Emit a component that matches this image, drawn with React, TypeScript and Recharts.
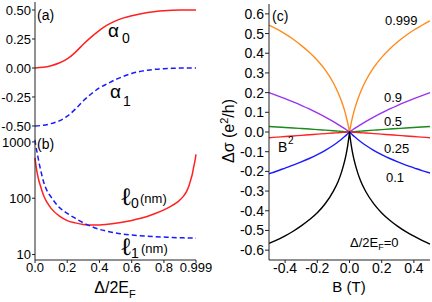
import React from 'react';
import { LineChart, Line, XAxis, YAxis } from 'recharts';

const FONT = '"Liberation Sans", Arial, sans-serif';
const AX = '#222';

// Panel (a): alpha_0, alpha_1 vs Δ/2E_F
const gapX = [0, 0.05, 0.1, 0.15, 0.2, 0.25, 0.3, 0.35, 0.4, 0.45, 0.5, 0.55, 0.6, 0.65, 0.7, 0.75, 0.8, 0.85, 0.9, 0.95, 0.999];
const alpha0 = [0, 0.006, 0.02, 0.043, 0.078, 0.135, 0.205, 0.268, 0.325, 0.371, 0.406, 0.432, 0.451, 0.466, 0.478, 0.487, 0.493, 0.497, 0.499, 0.5, 0.5];
const alpha1 = [-0.5, -0.494, -0.48, -0.456, -0.416, -0.355, -0.283, -0.222, -0.172, -0.135, -0.1, -0.072, -0.047, -0.031, -0.019, -0.011, -0.006, -0.003, -0.001, 0, 0];

// Panel (b): l_0, l_1 (nm) vs Δ/2E_F
const lenX = [0, 0.005, 0.014, 0.025, 0.035, 0.056, 0.075, 0.1, 0.15, 0.2, 0.25, 0.3, 0.35, 0.4, 0.45, 0.5, 0.55, 0.6, 0.65, 0.7, 0.75, 0.8, 0.85, 0.89, 0.92, 0.94, 0.955, 0.966, 0.975, 0.985, 0.992, 0.999];
const ell0 = [520, 400, 277, 200, 161, 107, 84, 66, 48.5, 40, 36.5, 34.2, 33.5, 33.6, 34.5, 35.8, 37.8, 40.3, 43.5, 48, 54, 62, 74, 88, 108, 131, 165, 211, 260, 363, 450, 600];
const ell1 = [1085, 850, 629, 430, 318, 184, 135, 105, 69, 54, 44, 36.5, 31.5, 28, 25.8, 24.2, 23, 22.2, 21.6, 21.1, 20.7, 20.4, 20.1, 19.9, 19.8, 19.7, 19.65, 19.6, 19.6, 19.55, 19.5, 19.5];

// Panel (c): Δσ vs B for several Δ/2E_F
const fieldB = [-0.5, -0.45, -0.4, -0.35, -0.3, -0.25, -0.2, -0.15, -0.1, -0.07, -0.05, -0.03, -0.02, -0.01, -0.005, -0.002, 0, 0.002, 0.005, 0.01, 0.02, 0.03, 0.05, 0.07, 0.1, 0.15, 0.2, 0.25, 0.3, 0.35, 0.4, 0.45, 0.5];
const sigma0999 = [0.543, 0.522, 0.498, 0.471, 0.44, 0.405, 0.364, 0.314, 0.249, 0.198, 0.157, 0.107, 0.076, 0.041, 0.022, 0.009, 0, 0.009, 0.022, 0.043, 0.079, 0.111, 0.163, 0.206, 0.259, 0.327, 0.379, 0.422, 0.458, 0.49, 0.518, 0.542, 0.565];
const sigma09 = [0.2, 0.185, 0.1696, 0.153, 0.1356, 0.117, 0.097, 0.0757, 0.0526, 0.0378, 0.0275, 0.0168, 0.0113, 0.0057, 0.0029, 0.0012, 0, 0.0012, 0.0029, 0.0057, 0.0113, 0.0168, 0.0275, 0.0378, 0.0526, 0.0757, 0.097, 0.117, 0.1356, 0.153, 0.1696, 0.185, 0.2];
const sigma05 = [0.028, 0.0255, 0.023, 0.0204, 0.0178, 0.015, 0.0122, 0.0093, 0.0063, 0.0043, 0.003, 0.0018, 0.0012, 0.0006, 0.0003, 0.0001, 0, 0.0001, 0.0003, 0.0006, 0.0012, 0.0018, 0.003, 0.0043, 0.0063, 0.0093, 0.0122, 0.015, 0.0178, 0.0204, 0.023, 0.0255, 0.028];
const sigma025 = [-0.029, -0.026, -0.023, -0.02, -0.017, -0.014, -0.011, -0.008, -0.0052, -0.0036, -0.0025, -0.0015, -0.001, -0.0005, -0.0002, -0.0001, 0, -0.0001, -0.0002, -0.0005, -0.001, -0.0015, -0.0025, -0.0036, -0.0052, -0.008, -0.011, -0.014, -0.017, -0.02, -0.023, -0.026, -0.029];
const sigma01 = [-0.212, -0.198, -0.183, -0.168, -0.152, -0.1346, -0.115, -0.0929, -0.0673, -0.0498, -0.037, -0.0232, -0.0158, -0.0081, -0.0041, -0.0017, 0, -0.0017, -0.0041, -0.0081, -0.0158, -0.0232, -0.037, -0.0498, -0.0673, -0.0929, -0.115, -0.1346, -0.152, -0.168, -0.182, -0.196, -0.208];
const sigma0 = [-0.566, -0.548, -0.527, -0.504, -0.477, -0.446, -0.41, -0.363, -0.3, -0.25, -0.205, -0.147, -0.11, -0.063, -0.034, -0.0144, 0, -0.0144, -0.034, -0.063, -0.11, -0.147, -0.205, -0.25, -0.301, -0.364, -0.411, -0.448, -0.479, -0.506, -0.529, -0.55, -0.569];

const gapTicksA = [-0.5, -0.25, 0, 0.25, 0.5];
const gapMinorA = [-0.5, -0.375, -0.25, -0.125, 0, 0.125, 0.25, 0.375, 0.5];
const xTicksB = [0, 0.2, 0.4, 0.6, 0.8, 0.999];
const xMinor = [0.1, 0.2, 0.3, 0.4, 0.5, 0.6, 0.7, 0.8, 0.9];
const lenTicks = [10, 100, 1000];
const lenMinor = [9, 20, 30, 40, 50, 60, 70, 80, 90, 200, 300, 400, 500, 600, 700, 800, 900];
const sigTicks = [-0.6, -0.5, -0.4, -0.3, -0.2, -0.1, 0, 0.1, 0.2, 0.3, 0.4, 0.5, 0.6];
const sigMinor = [-0.65, -0.55, -0.45, -0.35, -0.25, -0.15, -0.05, 0.05, 0.15, 0.25, 0.35, 0.45, 0.55];
const bTicks = [-0.4, -0.2, 0, 0.2, 0.4];
const bMinor = [-0.5, -0.3, -0.1, 0.1, 0.3, 0.5];

const dataA = gapX.map((x, i) => ({ x, a0: alpha0[i], a1: alpha1[i] }));
const dataB = lenX.map((x, i) => ({ x, l0: ell0[i], l1: ell1[i] }));
const seriesC = [
  { key: 's0999', vals: sigma0999, color: '#ff8c1a' },
  { key: 's09', vals: sigma09, color: '#9933ee' },
  { key: 's05', vals: sigma05, color: '#1a8a1a' },
  { key: 's025', vals: sigma025, color: '#ff2020' },
  { key: 's01', vals: sigma01, color: '#1a1aff' },
  { key: 's0', vals: sigma0, color: '#000000' },
];
const dataC = fieldB.map((b, i) => {
  const row: any = { b };
  seriesC.forEach((s) => { row[s.key] = s.vals[i]; });
  return row;
});

const tickA = { fontSize: 13, fill: '#000', fontFamily: FONT };
const tickC = { fontSize: 14, fill: '#000', fontFamily: FONT };

export default function App() {
  return (
    <div style={{ position: 'fixed', left: 0, top: 0, width: 432, height: 302, background: '#fff', overflow: 'hidden', fontFamily: FONT }}>
      {/* Panel (a) */}
      <div style={{ position: 'absolute', left: 0, top: 0 }}>
        <LineChart width={200} height={134} data={dataA} margin={{ top: 2, right: 4, bottom: 2, left: 0 }}>
          <XAxis xAxisId="a" dataKey="x" type="number" domain={[0, 0.999]} ticks={xMinor} mirror height={0} tick={false} tickSize={3} stroke={AX} />
          <YAxis yAxisId="a" type="number" domain={[-0.552, 0.569]} ticks={gapTicksA} width={35} tickSize={3} tickMargin={1}
            tickFormatter={(v: number) => v.toFixed(2)} tick={tickA} stroke={AX} allowDataOverflow />
          <YAxis yAxisId="am" type="number" domain={[-0.552, 0.569]} ticks={gapMinorA} mirror width={0} tick={false} tickSize={3} axisLine={false} stroke={AX} />
          <YAxis yAxisId="ar" orientation="right" type="number" domain={[-0.552, 0.569]} ticks={gapMinorA} mirror width={0} tick={false} tickSize={3} stroke={AX} />
          <Line xAxisId="a" yAxisId="a" dataKey="a0" type="monotone" stroke="#ff2020" strokeWidth={1.5} dot={false} isAnimationActive={false} />
          <Line xAxisId="a" yAxisId="a" dataKey="a1" type="monotone" stroke="#1a1aff" strokeWidth={1.5} strokeDasharray="5 3" dot={false} isAnimationActive={false} />
        </LineChart>
      </div>
      {/* Panel (b) */}
      <div style={{ position: 'absolute', left: 0, top: 128 }}>
        <LineChart width={236} height={174} data={dataB} margin={{ top: 4, right: 40, bottom: 12, left: 0 }}>
          <XAxis xAxisId="b" dataKey="x" type="number" domain={[0, 0.999]} ticks={xTicksB} height={30} tickSize={3} tickMargin={0}
            tickFormatter={(v: number) => (v === 0.999 ? '0.999' : v.toFixed(1))} tick={tickA} stroke={AX} interval={0} />
          <XAxis xAxisId="bm" dataKey="x" type="number" domain={[0, 0.999]} ticks={xMinor} mirror height={0} tick={false} tickSize={3} axisLine={false} stroke={AX} />
          <YAxis yAxisId="l" type="number" scale="log" domain={[8, 1500]} ticks={lenTicks} width={35} tickSize={3} tickMargin={1}
            tick={tickA} stroke={AX} allowDataOverflow interval={0} />
          <YAxis yAxisId="lm" type="number" scale="log" domain={[8, 1500]} ticks={lenMinor} mirror width={0} tick={false} tickSize={3} axisLine={false} stroke={AX} allowDataOverflow interval={0} />
          <YAxis yAxisId="lr" orientation="right" type="number" scale="log" domain={[8, 1500]} ticks={lenMinor} mirror width={0} tick={false} tickSize={3} stroke={AX} allowDataOverflow interval={0} />
          <Line xAxisId="b" yAxisId="l" dataKey="l0" type="monotone" stroke="#ff2020" strokeWidth={1.5} dot={false} isAnimationActive={false} />
          <Line xAxisId="b" yAxisId="l" dataKey="l1" type="monotone" stroke="#1a1aff" strokeWidth={1.5} strokeDasharray="5 3" dot={false} isAnimationActive={false} />
        </LineChart>
      </div>
      {/* Panel (c) */}
      <div style={{ position: 'absolute', left: 216, top: 0 }}>
        <LineChart width={216} height={302} data={dataC} margin={{ top: 4, right: 2, bottom: 12, left: 0 }}>
          <XAxis xAxisId="c" dataKey="b" type="number" domain={[-0.5, 0.5]} ticks={bTicks} height={30} tickSize={3} tickMargin={0}
            tickFormatter={(v: number) => v.toFixed(1)} tick={tickC} stroke={AX} interval={0} />
          <XAxis xAxisId="cm" dataKey="b" type="number" domain={[-0.5, 0.5]} ticks={bMinor} mirror height={0} tick={false} tickSize={3} axisLine={false} stroke={AX} />
          <YAxis yAxisId="s" type="number" domain={[-0.65, 0.65]} ticks={sigTicks} width={53} tickSize={4} tickMargin={1}
            tickFormatter={(v: number) => v.toFixed(1)} tick={tickC} stroke={AX} interval={0} />
          <YAxis yAxisId="sm" type="number" domain={[-0.65, 0.65]} ticks={sigMinor} mirror width={0} tick={false} tickSize={3} axisLine={false} stroke={AX} />
          {seriesC.map((s) => (
            <Line key={s.key} xAxisId="c" yAxisId="s" dataKey={s.key} type="monotone" stroke={s.color} strokeWidth={1.4} dot={false} isAnimationActive={false} />
          ))}
        </LineChart>
      </div>
      {/* Annotations */}
      <svg width={432} height={302} style={{ position: 'absolute', left: 0, top: 0, pointerEvents: 'none' }} fontFamily={FONT} fill="#000">
        <text x={37} y={20} fontSize={14}>(a)</text>
        <text x={108} y={37} fontSize={19}>α</text>
        <text x={122} y={43} fontSize={14}>0</text>
        <text x={110} y={98} fontSize={19}>α</text>
        <text x={123} y={106} fontSize={14}>1</text>

        <text x={37} y={149} fontSize={14}>(b)</text>
        <text x={120} y={205} fontSize={25} fontFamily='"DejaVu Serif", serif'>ℓ</text>
        <text x={131} y={208} fontSize={14}>0</text>
        <text x={140} y={203} fontSize={13}>(nm)</text>
        <text x={120} y={255} fontSize={25} fontFamily='"DejaVu Serif", serif'>ℓ</text>
        <text x={131} y={258} fontSize={14}>1</text>
        <text x={141} y={253} fontSize={13}>(nm)</text>
        <text x={115} y={293} fontSize={16} textAnchor="middle">Δ/2E<tspan fontSize={11} dy={5}>F</tspan></text>

        <text x={272} y={21} fontSize={14}>(c)</text>
        <text x={385} y={25} fontSize={13}>0.999</text>
        <text x={384} y={102} fontSize={13}>0.9</text>
        <text x={384} y={126} fontSize={13}>0.5</text>
        <text x={384} y={153} fontSize={13}>0.25</text>
        <text x={386} y={182} fontSize={13}>0.1</text>
        <text x={278} y={152} fontSize={14}>B</text>
        <text x={288} y={144} fontSize={10}>2</text>
        <text x={350} y={247} fontSize={13}>Δ/2E<tspan fontSize={9} dy={3}>F</tspan><tspan dy={-3}>=0</tspan></text>
        <text x={349} y={292} fontSize={15} textAnchor="middle">B (T)</text>
        <text transform="rotate(-90)" x={-131} y={234} fontSize={16} textAnchor="middle">Δσ (e<tspan fontSize={11} dy={-6}>2</tspan><tspan dy={6}>/h)</tspan></text>
      </svg>
    </div>
  );
}
